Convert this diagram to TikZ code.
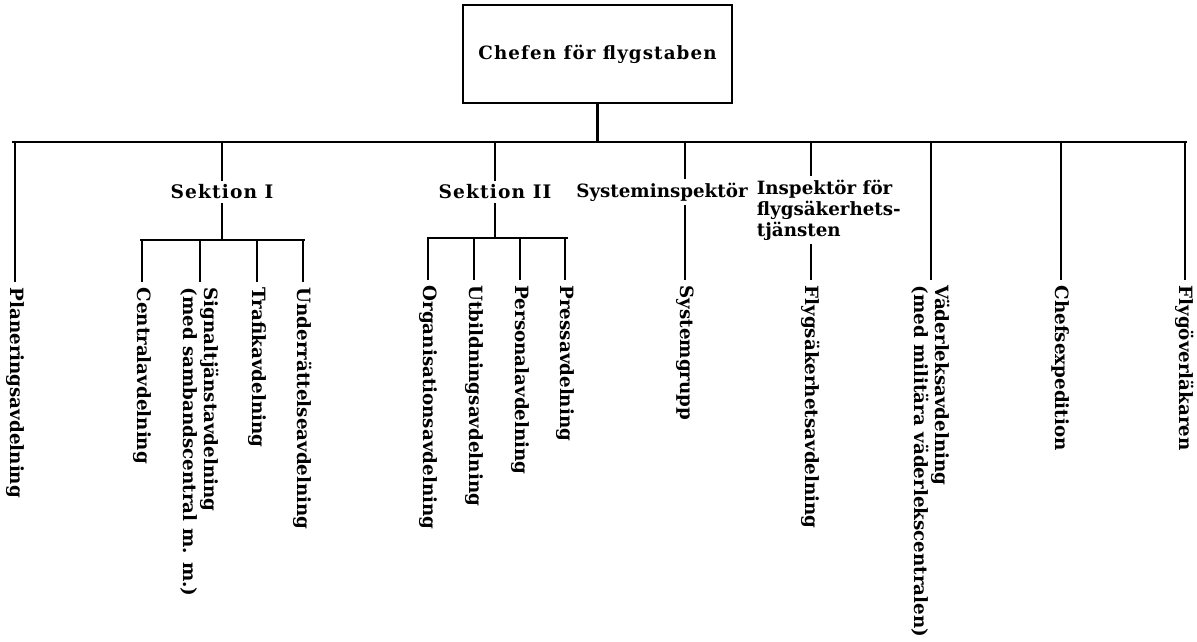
\documentclass[tikz,border=0pt]{standalone}
\usepackage{fontspec}
\setmainfont{DejaVu Serif}
\newfontfamily\wide[LetterSpace = 6]{DejaVu Serif}
\usetikzlibrary{positioning}
\tikzset{unit/.style = {font = \fontsize{10.4}{12}\selectfont\bfseries, inner sep = 2pt}}
\tikzset{dept/.style = {font = \fontsize{10.4}{12}\selectfont\bfseries, rotate = -90, anchor = west, align = left, inner sep = 3pt}}
\tikzset{link/.style = {line width = 1.3pt}}

\begin{document}
\begin{tikzpicture}[x = 0.02cm, y = -0.02cm]
    \useasboundingbox (0, 0) rectangle (1197, 642);
    \node [draw, line width = 1.3pt, minimum width = 5.38cm, minimum height = 1.96cm, font = \fontsize{10.4}{13}\selectfont\wide\bfseries] (chef) at (597.5, 54) {Chefen för flygstaben};
    \coordinate (barL) at (12, 142);
    \coordinate (barR) at (1187, 142);
    \draw [link] (barL) -- (barR);
    \draw [link] (chef.south) -- (chef.south |- barL);

    \node [dept] (plan) at (15, 282) {Planeringsavdelning};
    \draw [link] (plan.west |- barL) -- (plan.west);

    \node [unit, font = \fontsize{10.6}{12}\selectfont\wide\bfseries] (sek1) at (222, 192) {Sektion I};
    \coordinate (s1L) at (140, 240);
    \coordinate (s1R) at (305, 240);
    \draw [link] (sek1 |- barL) -- (sek1.north);
    \draw [link] (sek1.south) -- (sek1 |- s1L);
    \draw [link] (s1L) -- (s1R);
    \node [dept] (central) at (142, 282) {Centralavdelning};
    \node [dept] (signal) at (200, 282) {Signaltjänstavdelning\\(med sambandscentral m. m.)};
    \node [dept] (trafik) at (257, 282) {Trafikavdelning};
    \node [dept] (underr) at (303, 282) {Underrättelseavdelning};
    \foreach \n in {central, signal, trafik, underr}
        \draw [link] (\n.west |- s1L) -- (\n.west);

    \node [unit, font = \fontsize{10.6}{12}\selectfont\wide\bfseries] (sek2) at (495, 192) {Sektion II};
    \coordinate (s2L) at (427, 238);
    \coordinate (s2R) at (568, 238);
    \draw [link] (sek2 |- barL) -- (sek2.north);
    \draw [link] (sek2.south) -- (sek2 |- s2L);
    \draw [link] (s2L) -- (s2R);
    \node [dept] (organ) at (428, 280) {Organisationsavdelning};
    \node [dept] (utbild) at (474, 280) {Utbildningsavdelning};
    \node [dept] (person) at (520, 280) {Personalavdelning};
    \node [dept] (press) at (565, 280) {Pressavdelning};
    \foreach \n in {organ, utbild, person, press}
        \draw [link] (\n.west |- s2L) -- (\n.west);

    \node [unit] (sysinsp) at (662, 192) {Systeminspektör};
    \node [dept] (sysgrupp) at (685, 280) {Systemgrupp};
    \draw [link] (sysgrupp.west |- barL) -- (sysgrupp.west |- sysinsp.north);
    \draw [link] (sysgrupp.west |- sysinsp.south) -- (sysgrupp.west);

    \node [unit, align = left, anchor = north west] (insp) at (753, 176) {Inspektör för\\flygsäkerhets-\\tjänsten};
    \node [dept] (flygsak) at (811, 280) {Flygsäkerhetsavdelning};
    \draw [link] (flygsak.west |- barL) -- (flygsak.west |- insp.north);
    \draw [link] (flygsak.west |- insp.south) -- (flygsak.west);

    \node [dept] (vader) at (931, 280) {Väderleksavdelning\\(med militära väderlekscentralen)};
    \node [dept] (chefsexp) at (1061, 280) {Chefsexpedition};
    \node [dept] (flygover) at (1185, 280) {Flygöverläkaren};
    \foreach \n in {vader, chefsexp, flygover}
        \draw [link] (\n.west |- barL) -- (\n.west);
\end{tikzpicture}
\end{document}
